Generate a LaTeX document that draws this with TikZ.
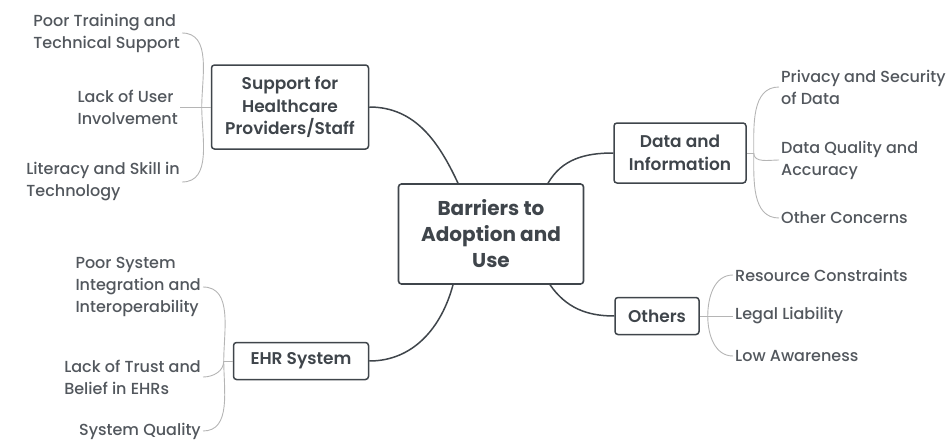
\documentclass[tikz,border=0pt]{standalone}
\usepackage{fontspec}
\setmainfont{Poppins}
\newfontfamily\leaffont{Poppins Medium}
\newfontfamily\branchfont{Poppins SemiBold}
\definecolor{boxgray}{HTML}{3F454B}
\definecolor{leafgray}{HTML}{52575D}
\definecolor{linegray}{HTML}{B5B5B5}
\begin{document}
\begin{tikzpicture}[x=1pt,y=-1pt,
    mainbox/.style={draw=boxgray,line width=1.6pt,rounded corners=3pt,text=boxgray,align=center,
      font=\fontsize{20}{26}\selectfont\bfseries},
    subbox/.style={draw=boxgray,line width=1.5pt,rounded corners=3pt,text=boxgray,align=center,
      font=\fontsize{17}{22.5}\selectfont\branchfont},
    leaf/.style={text=leafgray,align=left,inner sep=2pt,font=\fontsize{16}{22}\selectfont\leaffont},
    mainline/.style={draw=boxgray,line width=1.5pt},
    leafline/.style={draw=linegray,line width=0.9pt}]
  \useasboundingbox (0,0) rectangle (949,444);
  % central topic and main branches
  \node[mainbox,minimum width=185pt,minimum height=100pt] (bar) at (491,234) {Barriers to\\Adoption and\\Use};
  \node[subbox,minimum width=157pt,minimum height=84pt] (sup) at (290,107) {Support for\\Healthcare\\Providers/Staff};
  \node[subbox,minimum width=132pt,minimum height=60pt] (dat) at (680,153) {Data and\\Information};
  \node[subbox,minimum width=135pt,minimum height=37pt] (ehr) at (301,361) {EHR System};
  \node[subbox,minimum width=84pt,minimum height=37pt] (oth) at (657,316) {Others};
  \draw[mainline] (sup.east) to[out=0,in=115] ([xshift=-33pt]bar.north);
  \draw[mainline] ([xshift=57pt]bar.north) to[out=60,in=180] (dat.west);
  \draw[mainline] ([xshift=-38pt]bar.south) to[out=-105,in=0] (ehr.east);
  \draw[mainline] ([xshift=59pt]bar.south) to[out=-55,in=180] (oth.west);
  % leaves of support
  \node[leaf,anchor=east] (s1) at (182,33) {Poor Training and\\Technical Support};
  \node[leaf,anchor=east] (s2) at (180,107) {Lack of User\\Involvement};
  \node[leaf,anchor=east] (s3) at (182,182) {Literacy and Skill in\\Technology};
  \coordinate (supj) at ([xshift=-9pt]sup.west);
  \draw[leafline] (sup.west) -- (s2.east);
  \draw[leafline] (supj) to[out=90,in=0] (s1.east);
  \draw[leafline] (supj) to[out=-90,in=0] (s3.east);
  % leaves of ehr system
  \node[leaf,anchor=east] (e1) at (203,287) {Poor System\\Integration and\\Interoperability};
  \node[leaf,anchor=east] (e2) at (203,377) {Lack of Trust and\\Belief in EHRs};
  \node[leaf,anchor=east] (e3) at (203,431) {System Quality};
  \coordinate (ehrj) at ([xshift=-9pt]ehr.west);
  \draw[leafline] (ehr.west) -- (ehrj);
  \draw[leafline] (ehrj) to[out=90,in=0] (e1.east);
  \draw[leafline] (ehrj) to[out=-90,in=0] (e2.east);
  \draw[leafline] (ehrj) to[out=-90,in=0] (e3.east);
  % leaves of data and information
  \node[leaf,anchor=west] (d1) at (779,87) {Privacy and Security\\of Data};
  \node[leaf,anchor=west] (d2) at (779,160) {Data Quality and\\Accuracy};
  \node[leaf,anchor=west] (d3) at (779,218) {Other Concerns};
  \coordinate (datj) at ([xshift=7pt]dat.east);
  \draw[leafline] (dat.east) -- (datj);
  \draw[leafline] (datj) to[out=90,in=180] (d1.west);
  \draw[leafline] (datj) to[out=-90,in=180] (d2.west);
  \draw[leafline] (datj) to[out=-90,in=180] (d3.west);
  % leaves of others
  \node[leaf,anchor=west] (o1) at (733,275) {Resource Constraints};
  \node[leaf,anchor=west] (o2) at (733,316) {Legal Liability};
  \node[leaf,anchor=west] (o3) at (733,356) {Low Awareness};
  \coordinate (othj) at ([xshift=8pt]oth.east);
  \draw[leafline] (oth.east) -- (o2.west);
  \draw[leafline] (othj) to[out=90,in=180] (o1.west);
  \draw[leafline] (othj) to[out=-90,in=180] (o3.west);
\end{tikzpicture}
\end{document}
